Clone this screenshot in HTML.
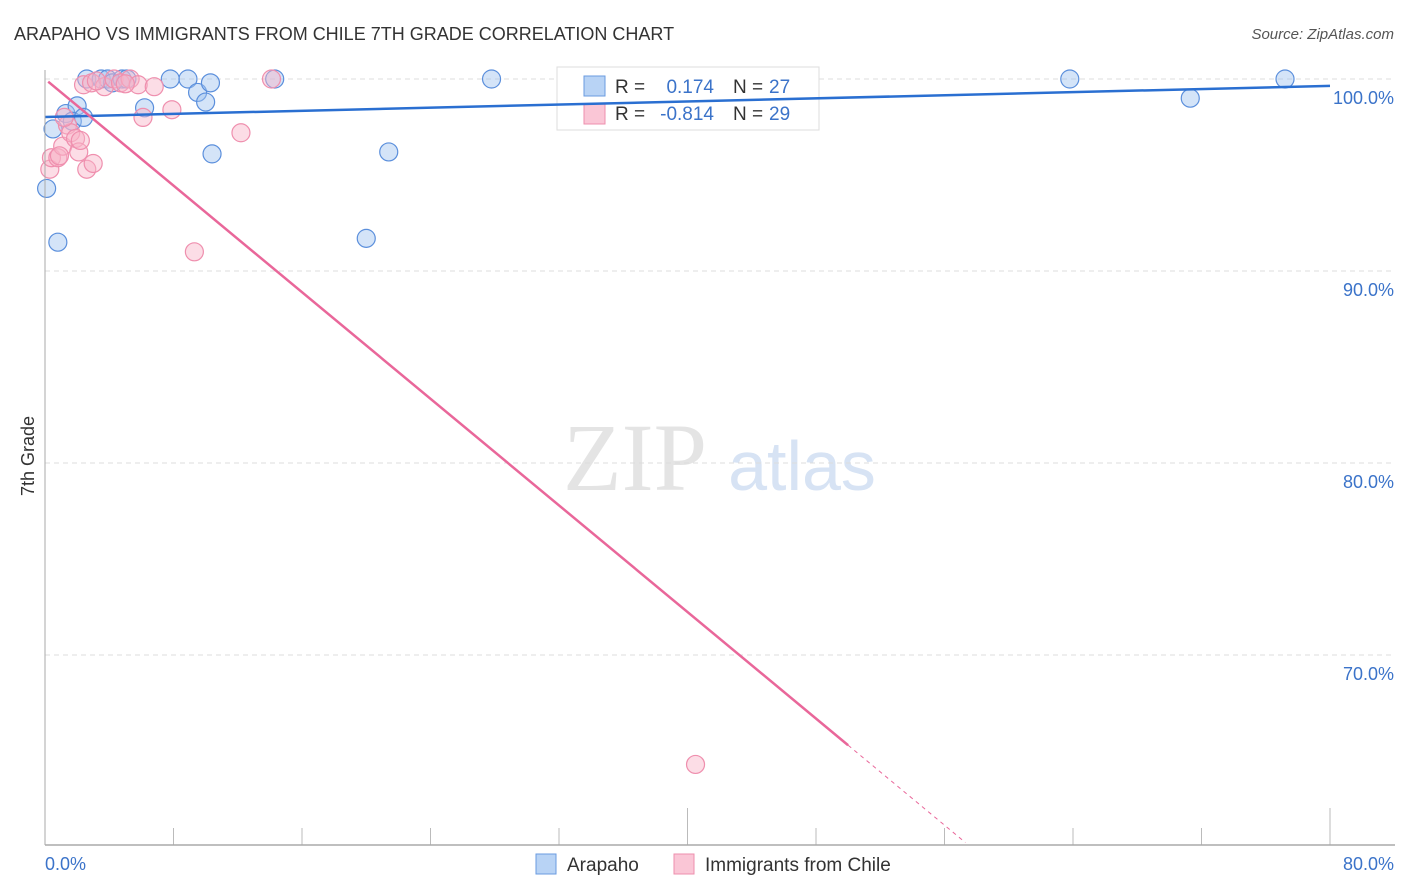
<!DOCTYPE html>
<html><head><meta charset="utf-8"><style>
body{margin:0;background:#fff;font-family:"Liberation Sans",sans-serif}
svg{display:block}
</style></head><body>
<svg id="c" width="1406" height="892">
<text x="14" y="40" font-size="18" fill="#333">ARAPAHO VS IMMIGRANTS FROM CHILE 7TH GRADE CORRELATION CHART</text>
<text x="1394" y="39" font-size="15" fill="#555" font-style="italic" text-anchor="end">Source: ZipAtlas.com</text>
<text x="635" y="490" font-size="96" fill="#e4e4e4" font-family="Liberation Serif,serif" text-anchor="middle">ZIP</text>
<text x="802" y="490" font-size="70" fill="#d7e3f4" text-anchor="middle">atlas</text>
<text transform="translate(34,456) rotate(-90)" font-size="18" fill="#333" text-anchor="middle">7th Grade</text>
<g id="grid"></g>
<g>
<rect x="557" y="67" width="262" height="63" fill="#fff" stroke="#ddd"/>
<rect x="584" y="76" width="21" height="20" fill="#b8d3f5" stroke="#6a9be0"/>
<rect x="584" y="104" width="21" height="20" fill="#fac6d6" stroke="#ee8fad"/>
<text x="615" y="93" font-size="19" fill="#333">R = </text><text x="714" y="93" font-size="19" fill="#3b73c9" text-anchor="end">0.174</text>
<text x="733" y="93" font-size="19" fill="#333">N = </text><text x="769" y="93" font-size="19" fill="#3b73c9">27</text>
<text x="615" y="120" font-size="19" fill="#333">R = </text><text x="714" y="120" font-size="19" fill="#3b73c9" text-anchor="end">-0.814</text>
<text x="733" y="120" font-size="19" fill="#333">N = </text><text x="769" y="120" font-size="19" fill="#3b73c9">29</text>
</g>
<g id="marks"></g>
<line x1="45" y1="845" x2="1395" y2="845" stroke="#aaa" stroke-width="1.5"/>
<line x1="45" y1="70" x2="45" y2="845" stroke="#aaa"/>
<text x="45" y="870" font-size="18" fill="#3b73c9">0.0%</text>
<text x="1394" y="870" font-size="18" fill="#3b73c9" text-anchor="end">80.0%</text>
<g>
<rect x="536" y="854" width="20" height="20" fill="#b8d3f5" stroke="#6a9be0"/>
<text x="567" y="871" font-size="19" fill="#333">Arapaho</text>
<rect x="674" y="854" width="20" height="20" fill="#fac6d6" stroke="#ee8fad"/>
<text x="705" y="871" font-size="19" fill="#333">Immigrants from Chile</text>
</g>
</svg>
<script>
const yTicks=[100,90,80,70];
const yTickLabels=["100.0%","90.0%","80.0%","70.0%"];
const xTicks=[0,8,16,24,32,40,48,56,64,72,80];
const blueX=[0.1,0.8,0.5,1.3,2.0,1.7,2.4,2.6,3.5,3.9,4.2,4.8,5.1,6.2,7.8,8.9,9.5,10.0,10.3,10.4,14.3,20.0,21.4,27.8,63.8,71.3,77.2];
const blueY=[94.3,91.5,97.4,98.2,98.6,97.8,98.0,100,100,100,99.8,100,100,98.5,100,100,99.3,98.8,99.8,96.1,100,91.7,96.2,100,100,99.0,100];
const pinkX=[0.3,0.4,0.8,1.1,1.4,1.6,1.9,2.1,2.6,3.0,2.4,2.9,3.7,4.3,4.7,5.3,5.8,6.1,6.8,7.9,9.3,12.2,14.1,40.5,0.9,2.2,3.2,5.0,1.2];
const pinkY=[95.3,95.9,95.9,96.5,97.6,97.2,96.9,96.2,95.3,95.6,99.7,99.8,99.6,100,99.8,100,99.7,98.0,99.6,98.4,91.0,97.2,100,64.3,96.0,96.8,99.9,99.75,98.0];
const blueLine=[98.02,99.64];
const pinkLine=[100,-0.694];
const X=v=>45+v*16.0625, Y=v=>79+(100-v)*19.2;
const NS="http://www.w3.org/2000/svg";
const grid=document.getElementById('grid'), marks=document.getElementById('marks');
function mk(tag,attrs,parent){const e=document.createElementNS(NS,tag);for(const k in attrs)e.setAttribute(k,attrs[k]);parent.appendChild(e);return e;}
yTicks.forEach((t,i)=>{
 const l=mk('line',{x1:45,x2:1395,y1:Y(t),y2:Y(t),stroke:'#ddd','stroke-dasharray':'5,4'},grid);
 
 
 const tx=mk('text',{x:1394,y:Y(t)+25,'font-size':18,fill:'#3b73c9','text-anchor':'end'},grid);
 tx.textContent=yTickLabels[i];
 
 
});
xTicks.forEach(t=>{
 const major=(t===40||t===80);
 const l=mk('line',{x1:X(t),x2:X(t),y1:major?808:828,y2:845,stroke:'#bbb'},grid);
 
 
});
blueX.forEach((x,i)=>{
 const c=mk('circle',{cx:X(x),cy:Y(blueY[i]),r:9,fill:'rgba(160,195,240,0.45)',stroke:'#5b8fdc','stroke-width':1.2},marks);
 
 
});
pinkX.forEach((x,i)=>{
 const c=mk('circle',{cx:X(x),cy:Y(pinkY[i]),r:9,fill:'rgba(248,180,200,0.45)',stroke:'#ef8fae','stroke-width':1.2},marks);
 
 
});
const bl=mk('line',{x1:X(0),y1:Y(blueLine[0]),x2:X(80),y2:Y(blueLine[1]),stroke:'#2a6fd1','stroke-width':2.5},marks);


const pf=x=>pinkLine[0]+pinkLine[1]*x;
const pl=mk('line',{x1:X(0.2),y1:Y(pf(0.2)),x2:X(50),y2:Y(pf(50)),stroke:'#e9679a','stroke-width':2.5},marks);


const pd=mk('line',{x1:X(50),y1:Y(pf(50)),x2:X(57.3),y2:Y(pf(57.3)),stroke:'#e9679a','stroke-width':1,'stroke-dasharray':'4,4'},marks);


</script>
</body></html>
